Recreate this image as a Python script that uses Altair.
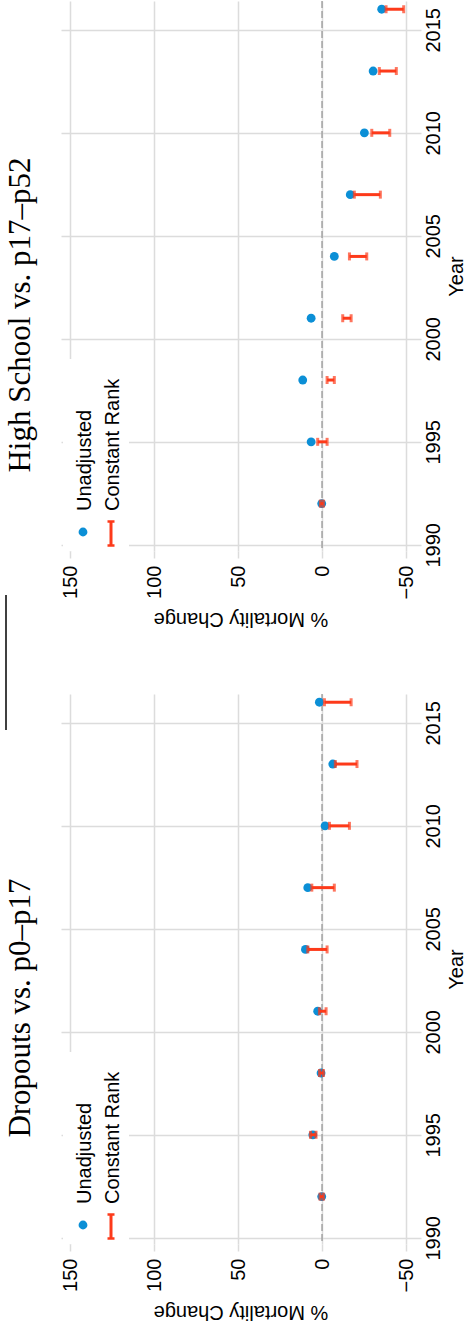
import altair as alt
import pandas as pd

years = [1992, 1995, 1998, 2001, 2004, 2007, 2010, 2013, 2016]

drop_unadj = [0.2, 5.5, 0.6, 2.6, 9.9, 8.5, -1.8, -6.4, 1.6]
drop_cr_lo = [1.2, 6.9, 1.5, 1.6, 8.5, 6.1, -4.4, -7.9, -1.4]
drop_cr_hi = [-0.8, 3.6, -0.8, -2.4, -3.0, -7.3, -16.3, -20.8, -17.3]

hs_unadj = [0.2, 6.5, 11.5, 6.5, -7.3, -16.8, -25.2, -30.4, -35.5]
hs_cr_lo = [1.0, 2.6, -3.0, -12.3, -16.3, -19.2, -29.6, -34.1, -38.1]
hs_cr_hi = [-0.8, -3.0, -7.3, -17.3, -26.6, -34.7, -40.3, -44.2, -48.6]

panel_titles = ["High School vs. p17\u2013p52", "Dropouts vs. p0\u2013p17"]
legend_labels = ["Unadjusted", "Constant Rank"]
x_ticks = [-50, 0, 50, 100, 150]
year_ticks = [1990, 1995, 2000, 2005, 2010, 2015]
x_title = "% Mortality Change"
y_title = "Year"

BLUE = "#0b8fd6"
RED = "#fd3a1a"
GRID = "#dcdcdc"
SANS = "Liberation Sans"
SERIF = "Liberation Serif"
FS = 20

xscale = alt.Scale(domain=[155.4, -58.9], nice=False, zero=False)
yscale = alt.Scale(domain=[1989.7, 2016.4], nice=False, zero=False)

xaxis = alt.Axis(
    values=x_ticks, title=None, grid=True, gridColor=GRID, gridWidth=1.5,
    domain=False, ticks=True, tickSize=7, tickColor=GRID, tickWidth=1.5,
    labelAngle=270, labelAlign="right", labelBaseline="middle", labelPadding=7,
    labelFont=SANS, labelFontSize=FS, labelColor="black",
)
yaxis = alt.Axis(
    orient="right", values=year_ticks, format="d", title=y_title, grid=True,
    gridColor=GRID, gridWidth=1.5, domain=False, ticks=False,
    labelAngle=270, labelAlign="center", labelBaseline="top", labelPadding=2,
    labelFont=SANS, labelFontSize=FS, labelColor="black",
    titleAngle=270, titleAlign="center", titleBaseline="top",
    titleX=25, titleY=275, titleFont=SANS, titleFontSize=FS,
    titleFontWeight="normal", titleColor="black",
)


def X(field):
    return alt.X(field, type="quantitative", scale=xscale, axis=xaxis)


def Y(field):
    return alt.Y(field, type="quantitative", scale=yscale, axis=yaxis)


def panel(title, unadj, lo, hi, offset, extra_line=False):
    df = pd.DataFrame({"year": years, "unadj": unadj, "lo": lo, "hi": hi})
    base = alt.Chart(df)
    zero = alt.Chart(pd.DataFrame({"z": [0]})).mark_rule(
        color="#a3a3a3", strokeDash=[7, 3], strokeWidth=1.5
    ).encode(x=X("z"))
    blank = alt.Data(values=[{}])
    legend_bg = alt.Chart(blank).mark_rect(color="white").encode(
        x=alt.value(2), x2=alt.value(68), y=alt.value(358), y2=alt.value(550)
    )
    pts = base.mark_circle(size=78, color=BLUE, opacity=1).encode(x=X("unadj"), y=Y("year"))
    bars = base.mark_rule(color=RED, strokeWidth=3).encode(
        x=X("lo"), x2="hi", y=Y("year")
    )
    cap_lo = base.mark_tick(color=RED, thickness=3, size=8, orient="vertical").encode(
        x=X("lo"), y=Y("year")
    )
    cap_hi = base.mark_tick(color=RED, thickness=3, size=8, orient="vertical").encode(
        x=X("hi"), y=Y("year")
    )
    leg_dot = alt.Chart(blank).mark_circle(size=78, color=BLUE, opacity=1).encode(
        x=alt.value(22), y=alt.value(531)
    )
    leg_bar = alt.Chart(blank).mark_rule(color=RED, strokeWidth=3).encode(
        x=alt.value(50), y=alt.value(520), y2=alt.value(545)
    )
    leg_cap1 = alt.Chart(blank).mark_rule(color=RED, strokeWidth=2.5).encode(
        x=alt.value(46.5), x2=alt.value(53.5), y=alt.value(520.5)
    )
    leg_cap2 = alt.Chart(blank).mark_rule(color=RED, strokeWidth=2.5).encode(
        x=alt.value(46.5), x2=alt.value(53.5), y=alt.value(544.5)
    )
    leg_t1 = alt.Chart(blank).mark_text(
        text=legend_labels[0], angle=270, align="left", baseline="alphabetic",
        font=SANS, fontSize=FS, color="black"
    ).encode(x=alt.value(30), y=alt.value(510))
    leg_t2 = alt.Chart(blank).mark_text(
        text=legend_labels[1], angle=270, align="left", baseline="alphabetic",
        font=SANS, fontSize=FS, color="black"
    ).encode(x=alt.value(58), y=alt.value(510))
    xtitle = alt.Chart(blank).mark_text(
        text=x_title, angle=180, align="center", baseline="bottom",
        font=SANS, fontSize=FS, color="black"
    ).encode(x=alt.value(180), y=alt.value(608))
    layers = [zero, legend_bg, pts, bars, cap_lo, cap_hi,
              leg_dot, leg_bar, leg_cap1, leg_cap2, leg_t1, leg_t2, xtitle]
    if extra_line:
        line = alt.Chart(blank).mark_rule(color="black", strokeWidth=1.5).encode(
            x=alt.value(-55), y=alt.value(-99), y2=alt.value(36)
        )
        layers.append(line)
    return alt.layer(*layers).properties(
        width=360, height=550,
        title=alt.TitleParams(
            text=title, orient="left", anchor="middle", frame="group",
            font=SERIF, fontSize=31, fontWeight="normal", color="black",
            offset=offset, dx=-39,
        ),
    )


top = panel(panel_titles[0], hs_unadj, hs_cr_lo, hs_cr_hi, offset=23)
bottom = panel(panel_titles[1], drop_unadj, drop_cr_lo, drop_cr_hi, offset=-32, extra_line=True)

chart = alt.vconcat(top, bottom, spacing=143, bounds="flush").properties(
    padding={"left": 5, "top": 0, "right": 0, "bottom": 6},
    background="white",
).configure_view(stroke=None)

chart.save("out.html", embed_options={"renderer": "svg", "actions": False})
